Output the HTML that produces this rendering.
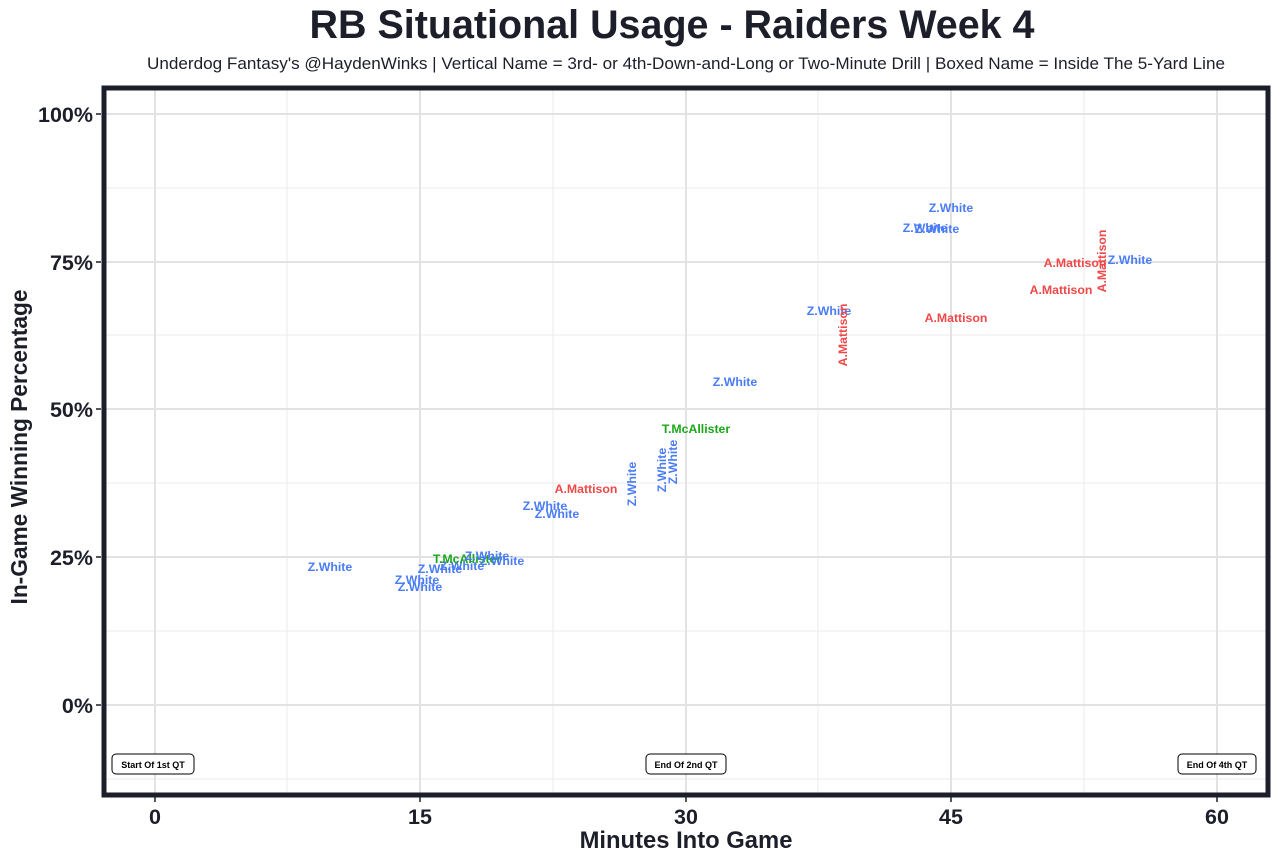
<!DOCTYPE html>
<html><head><meta charset="utf-8"><style>
body{margin:0;background:#fff;}
svg{display:block;font-family:"Liberation Sans",Arial,sans-serif;}
.l{font-size:12.3px;font-weight:bold;text-anchor:middle;dominant-baseline:central;}
.b{fill:#4a7cf8}.r{fill:#f04848}.g{fill:#1aa81a}
</style></head><body>
<svg width="1280" height="862" viewBox="0 0 1280 862">
<rect width="1280" height="862" fill="#fff"/>
<text x="672" y="38" text-anchor="middle" font-size="39.5" font-weight="bold" fill="#1c1f2a" textLength="725" lengthAdjust="spacingAndGlyphs">RB Situational Usage - Raiders Week 4</text>
<text x="686" y="69" text-anchor="middle" font-size="16.5" fill="#1c1f2a" textLength="1078" lengthAdjust="spacingAndGlyphs">Underdog Fantasy's @HaydenWinks | Vertical Name = 3rd- or 4th-Down-and-Long or Two-Minute Drill | Boxed Name = Inside The 5-Yard Line</text>
<g stroke="#ebebeb" stroke-width="1">
<line x1="104" x2="1268" y1="188" y2="188"/><line x1="104" x2="1268" y1="335" y2="335"/><line x1="104" x2="1268" y1="483" y2="483"/><line x1="104" x2="1268" y1="631" y2="631"/><line x1="104" x2="1268" y1="779" y2="779"/>
<line y1="88" y2="795" x1="287" x2="287"/><line y1="88" y2="795" x1="553" x2="553"/><line y1="88" y2="795" x1="818" x2="818"/><line y1="88" y2="795" x1="1084" x2="1084"/>
</g>
<g stroke="#e2e2e2" stroke-width="2">
<line x1="104" x2="1268" y1="114" y2="114"/><line x1="104" x2="1268" y1="262" y2="262"/><line x1="104" x2="1268" y1="409" y2="409"/><line x1="104" x2="1268" y1="557" y2="557"/><line x1="104" x2="1268" y1="705" y2="705"/>
<line y1="88" y2="795" x1="155" x2="155"/><line y1="88" y2="795" x1="420" x2="420"/><line y1="88" y2="795" x1="686" x2="686"/><line y1="88" y2="795" x1="951" x2="951"/><line y1="88" y2="795" x1="1217" x2="1217"/>
</g>
<rect x="104" y="88" width="1164" height="707" fill="none" stroke="#1c1f2a" stroke-width="5"/>
<g stroke="#1c1f2a" stroke-width="1.5">
<line x1="155" x2="155" y1="797" y2="802"/><line x1="420" x2="420" y1="797" y2="802"/><line x1="686" x2="686" y1="797" y2="802"/><line x1="951" x2="951" y1="797" y2="802"/><line x1="1217" x2="1217" y1="797" y2="802"/>
<line x1="96" x2="101" y1="114" y2="114"/><line x1="96" x2="101" y1="262" y2="262"/><line x1="96" x2="101" y1="409" y2="409"/><line x1="96" x2="101" y1="557" y2="557"/><line x1="96" x2="101" y1="705" y2="705"/>
</g>
<g font-size="21.5" font-weight="bold" fill="#1c1f2a" text-anchor="middle">
<text x="155" y="824">0</text><text x="420" y="824">15</text><text x="686" y="824">30</text><text x="951" y="824">45</text><text x="1217" y="824">60</text>
</g>
<g font-size="21.5" font-weight="bold" fill="#1c1f2a" text-anchor="end">
<text x="93" y="122">100%</text><text x="93" y="270">75%</text><text x="93" y="417">50%</text><text x="93" y="565">25%</text><text x="93" y="713">0%</text>
</g>
<text x="686" y="848" text-anchor="middle" font-size="23.8" font-weight="bold" fill="#1c1f2a">Minutes Into Game</text>
<text transform="translate(27,447) rotate(-90)" text-anchor="middle" font-size="22.7" font-weight="bold" fill="#1c1f2a">In-Game Winning Percentage</text>
<g font-size="9" font-weight="bold" fill="#000" text-anchor="middle">
<rect x="112" y="754" width="82" height="20" rx="4" fill="#fff" stroke="#000"/><text x="153" y="768">Start Of 1st QT</text>
<rect x="646" y="754" width="80" height="20" rx="4" fill="#fff" stroke="#000"/><text x="686" y="768">End Of 2nd QT</text>
<rect x="1178" y="754" width="78" height="20" rx="4" fill="#fff" stroke="#000"/><text x="1217" y="768">End Of 4th QT</text>
</g>
<g class="l">
<text class="l b" x="330" y="567">Z.White</text>
<text class="l b" x="417" y="580">Z.White</text>
<text class="l b" x="420" y="587">Z.White</text>
<text class="l b" x="440" y="569">Z.White</text>
<text class="l b" x="462" y="566">Z.White</text>
<text class="l g" x="467" y="559">T.McAllister</text>
<text class="l b" x="487" y="556">Z.White</text>
<text class="l b" x="502" y="561">Z.White</text>
<text class="l b" x="545" y="506">Z.White</text>
<text class="l b" x="557" y="514">Z.White</text>
<text class="l r" x="586" y="489">A.Mattison</text>
<text class="l b" transform="translate(632,484) rotate(-90)">Z.White</text>
<text class="l b" transform="translate(662,470) rotate(-90)">Z.White</text>
<text class="l b" transform="translate(673,462) rotate(-90)">Z.White</text>
<text class="l g" x="696" y="429">T.McAllister</text>
<text class="l b" x="735" y="382">Z.White</text>
<text class="l b" x="829" y="311">Z.White</text>
<text class="l r" transform="translate(843,335) rotate(-90)">A.Mattison</text>
<text class="l b" x="951" y="208">Z.White</text>
<text class="l b" x="925" y="228">Z.White</text>
<text class="l b" x="937" y="229">Z.White</text>
<text class="l r" x="956" y="318">A.Mattison</text>
<text class="l r" x="1075" y="263">A.Mattison</text>
<text class="l r" x="1061" y="290">A.Mattison</text>
<text class="l r" transform="translate(1102,261) rotate(-90)">A.Mattison</text>
<text class="l b" x="1130" y="260">Z.White</text>
</g>
</svg>
</body></html>
